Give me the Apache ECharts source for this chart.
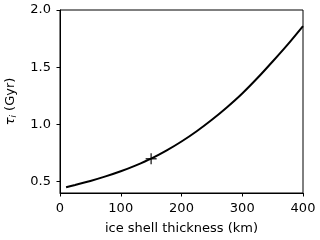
<!DOCTYPE html>
<html>
<head>
<meta charset="utf-8">
<script src="https://cdn.jsdelivr.net/npm/echarts@6/dist/echarts.min.js"></script>
<style>html,body{margin:0;padding:0;background:#fff}#c{width:320px;height:240px}</style>
</head>
<body>
<div id="c"></div>
<script>
var thickness = [10, 25, 50, 75, 100, 125, 150, 175, 200, 225, 250, 275, 300, 325, 350, 375, 400];
var tauValues = [0.45, 0.47, 0.505, 0.545, 0.59, 0.642, 0.70, 0.77, 0.85, 0.94, 1.04, 1.15, 1.27, 1.405, 1.55, 1.70, 1.86];
var markerPoint = [[150, 0.70]];
var xTicks = [0, 100, 200, 300, 400];
var yTicks = [0.5, 1.0, 1.5, 2.0];

var font = 'DejaVu Sans';
var chart = echarts.init(document.getElementById('c'), null, {renderer: 'canvas'});
var lineData = thickness.map(function (x, i) { return [x, tauValues[i]]; });
var plus = 'path://M-0.13,-1 L0.13,-1 L0.13,-0.13 L1,-0.13 L1,0.13 L0.13,0.13 L0.13,1 L-0.13,1 L-0.13,0.13 L-1,0.13 L-1,-0.13 L-0.13,-0.13 Z';
chart.setOption({
  animation: false,
  backgroundColor: '#fff',
  grid: {left: 60, right: 17, top: 10, bottom: 47, outerBoundsMode: 'none', containLabel: false,
    show: true, borderColor: '#000', borderWidth: 1, backgroundColor: 'transparent'},
  xAxis: {
    type: 'value', min: 0, max: 400,
    name: 'ice shell thickness (km)', nameLocation: 'middle', nameGap: 29,
    nameTextStyle: {fontFamily: font, fontSize: 13, color: '#000'},
    axisLine: {show: true, onZero: false, lineStyle: {color: '#000', width: 1}},
    axisTick: {show: true, length: 3.5, customValues: xTicks, lineStyle: {color: '#000'}},
    axisLabel: {customValues: xTicks, margin: 9, fontFamily: font, fontSize: 13, color: '#000'},
    splitLine: {show: false}
  },
  yAxis: {
    type: 'value', min: 0.4, max: 2.0,
    name: '{t|τ}{s|i} (Gyr)', nameLocation: 'middle', nameGap: 42, nameRotate: 90,
    nameTextStyle: {fontFamily: font, fontSize: 13, color: '#000',
      rich: {t: {fontFamily: font, fontSize: 13, fontStyle: 'italic', color: '#000'},
             s: {fontFamily: font, fontSize: 9, fontStyle: 'italic', color: '#000', padding: [5, 0, 0, 0]}}},
    axisLine: {show: true, onZero: false, lineStyle: {color: '#000', width: 1}},
    axisTick: {show: true, length: 3.5, customValues: yTicks, lineStyle: {color: '#000'}},
    axisLabel: {customValues: yTicks, margin: 9, fontFamily: font, fontSize: 13, color: '#000',
      formatter: function (v) { return v.toFixed(1); }},
    splitLine: {show: false}
  },
  series: [
    {type: 'line', data: lineData, smooth: 0.25, showSymbol: false, lineStyle: {color: '#000', width: 2}},
    {type: 'scatter', data: markerPoint, symbol: plus, symbolSize: 11, itemStyle: {color: '#000'}}
  ]
});
</script>
</body>
</html>
